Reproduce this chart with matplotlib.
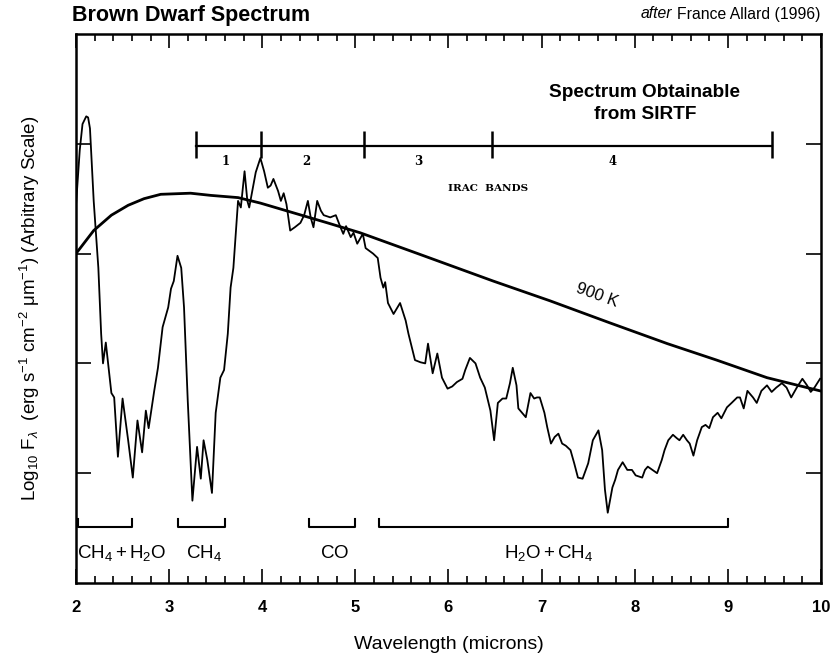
import numpy as np
import matplotlib
matplotlib.use('Agg')
import matplotlib.pyplot as plt
from matplotlib import font_manager

plt.rcParams['font.family'] = ['Liberation Sans', 'DejaVu Sans']
installed = {f.name for f in font_manager.fontManager.ttflist}
narrow = 'Liberation Sans Narrow' if 'Liberation Sans Narrow' in installed else 'Liberation Sans'
plt.rcParams['mathtext.fontset'] = 'custom'
plt.rcParams['mathtext.rm'] = 'Liberation Sans'
plt.rcParams['mathtext.it'] = 'Liberation Sans:italic'
plt.rcParams['mathtext.bf'] = 'Liberation Sans:bold'
plt.rcParams['mathtext.sf'] = narrow

# model spectrum (wavelength in microns, log flux in arbitrary units)
wave = [2.00, 2.04, 2.07, 2.11, 2.13, 2.15, 2.19, 2.24, 2.27, 2.29, 2.32, 2.35, 2.38, 2.41,
        2.45, 2.50, 2.56, 2.61, 2.66, 2.71, 2.75, 2.78, 2.84, 2.88, 2.93, 2.99, 3.02, 3.05,
        3.09, 3.13, 3.16, 3.20, 3.25, 3.30, 3.34, 3.37, 3.41, 3.46, 3.50, 3.55, 3.59, 3.63,
        3.66, 3.69, 3.74, 3.77, 3.81, 3.84, 3.86, 3.90, 3.93, 3.98, 4.02, 4.06, 4.09, 4.12,
        4.17, 4.20, 4.23, 4.26, 4.30, 4.35, 4.41, 4.45, 4.49, 4.52, 4.55, 4.59, 4.63, 4.66,
        4.73, 4.79, 4.84, 4.87, 4.90, 4.95, 4.98, 5.02, 5.08, 5.11, 5.19, 5.24, 5.27, 5.30,
        5.32, 5.35, 5.41, 5.48, 5.54, 5.57, 5.64, 5.70, 5.75, 5.78, 5.83, 5.88, 5.93, 5.99,
        6.04, 6.09, 6.15, 6.18, 6.23, 6.29, 6.34, 6.39, 6.45, 6.49, 6.53, 6.58, 6.62, 6.66,
        6.69, 6.73, 6.75, 6.79, 6.83, 6.88, 6.92, 6.95, 6.98, 7.03, 7.06, 7.10, 7.14, 7.18,
        7.22, 7.26, 7.31, 7.35, 7.39, 7.44, 7.50, 7.55, 7.61, 7.65, 7.68, 7.71, 7.76, 7.79,
        7.82, 7.87, 7.92, 7.97, 8.01, 8.08, 8.11, 8.14, 8.19, 8.24, 8.29, 8.32, 8.36, 8.41,
        8.45, 8.48, 8.52, 8.56, 8.59, 8.63, 8.67, 8.72, 8.76, 8.80, 8.84, 8.89, 8.93, 8.99,
        9.04, 9.10, 9.13, 9.17, 9.21, 9.27, 9.31, 9.36, 9.42, 9.47, 9.52, 9.58, 9.63, 9.68,
        9.74, 9.80, 9.85, 9.89, 9.93, 9.99]
flux = [3.44, 3.94, 4.18, 4.25, 4.24, 4.14, 3.48, 2.87, 2.27, 2.00, 2.19, 1.96, 1.73, 1.69,
        1.15, 1.68, 1.30, 0.96, 1.48, 1.19, 1.57, 1.41, 1.75, 1.96, 2.33, 2.51, 2.68, 2.75,
        2.98, 2.87, 2.51, 1.66, 0.75, 1.24, 0.95, 1.30, 1.12, 0.82, 1.55, 1.87, 1.94, 2.27,
        2.69, 2.87, 3.48, 3.42, 3.75, 3.48, 3.42, 3.60, 3.74, 3.87, 3.75, 3.60, 3.62, 3.68,
        3.57, 3.48, 3.55, 3.45, 3.21, 3.24, 3.28, 3.35, 3.48, 3.33, 3.24, 3.48, 3.39, 3.35,
        3.33, 3.35, 3.24, 3.18, 3.25, 3.15, 3.19, 3.09, 3.18, 3.05, 3.00, 2.96, 2.78, 2.69,
        2.74, 2.55, 2.45, 2.55, 2.39, 2.27, 2.03, 2.01, 2.00, 2.18, 1.91, 2.09, 1.87, 1.77,
        1.79, 1.83, 1.86, 1.94, 2.05, 2.00, 1.87, 1.78, 1.57, 1.30, 1.64, 1.68, 1.68, 1.82,
        1.96, 1.80, 1.59, 1.55, 1.51, 1.73, 1.68, 1.69, 1.69, 1.55, 1.42, 1.27, 1.33, 1.36,
        1.27, 1.25, 1.21, 1.09, 0.96, 0.95, 1.09, 1.30, 1.39, 1.21, 0.85, 0.64, 0.87, 0.94,
        1.03, 1.10, 1.03, 1.03, 0.98, 0.96, 1.03, 1.06, 1.03, 1.00, 1.12, 1.21, 1.30, 1.35,
        1.32, 1.30, 1.35, 1.30, 1.27, 1.16, 1.30, 1.42, 1.44, 1.41, 1.51, 1.55, 1.50, 1.60,
        1.64, 1.69, 1.69, 1.59, 1.75, 1.69, 1.64, 1.75, 1.80, 1.74, 1.78, 1.82, 1.78, 1.69,
        1.78, 1.86, 1.80, 1.74, 1.78, 1.86]

# 900 K blackbody
bb_wave = [2.00, 2.19, 2.38, 2.56, 2.73, 2.91, 3.23, 3.45, 3.74, 3.98, 4.34, 4.70, 5.05,
           5.67, 6.48, 7.09, 7.73, 8.35, 8.88, 9.42, 9.99]
bb_flux = [3.00, 3.21, 3.35, 3.44, 3.50, 3.54, 3.55, 3.53, 3.51, 3.46, 3.37, 3.28, 3.19,
           3.00, 2.75, 2.57, 2.37, 2.18, 2.03, 1.87, 1.75]

# IRAC band edges and labels
irac_edges = [3.29, 3.99, 5.09, 6.47, 9.47]
irac_names = ['1', '2', '3', '4']
irac_name_x = [3.61, 4.47, 5.68, 7.76]

# absorption features
absorb_lo = [2.02, 3.10, 4.50, 5.25]
absorb_hi = [2.60, 3.60, 5.00, 9.00]
absorb_names = [r'$\mathsf{CH_4 + H_2O}$', r'$\mathsf{CH_4}$', r'$\mathsf{CO}$',
                r'$\mathsf{H_2O + CH_4}$']
absorb_name_x = [2.49, 3.37, 4.78, 7.08]

fig = plt.figure(figsize=(8.33, 6.59), dpi=100)
ax = fig.add_axes([76/833, 1 - 583/659, 745/833, 549/659])

ax.plot(wave, flux, color='black', lw=1.3, solid_joinstyle='round')
ax.plot(bb_wave, bb_flux, color='black', lw=2.0)

# IRAC bar
ax.plot([irac_edges[0], irac_edges[-1]], [3.98, 3.98], color='black', lw=1.6)
ax.vlines(irac_edges, 3.87, 4.12, color='black', lw=1.8)
for name, xx in zip(irac_names, irac_name_x):
    ax.text(xx, 3.84, name, ha='center', va='center', fontsize=8.5,
            family='DejaVu Serif', fontweight='bold')
ax.text(6.42, 3.59, 'IRAC  BANDS', ha='center', va='center', fontsize=7.5,
        family='DejaVu Serif', fontweight='bold')
ax.text(8.11, 4.37, 'Spectrum Obtainable\nfrom SIRTF', ha='center', va='center',
        fontsize=13.7, fontweight='bold', linespacing=1.4)
ax.text(7.59, 2.62, '900 K', ha='center', va='center', fontsize=12, rotation=-20)

# absorption brackets
for lo, hi in zip(absorb_lo, absorb_hi):
    ax.plot([lo, lo, hi, hi], [0.58, 0.51, 0.51, 0.58], color='black', lw=1.5)
for name, xx in zip(absorb_names, absorb_name_x):
    ax.text(xx, 0.27, name, ha='center', va='center', fontsize=13.5)

ax.set_xlim(2, 10)
ax.set_ylim(0, 5)
ax.set_xticks(range(2, 11))
ax.set_xticks(np.arange(2, 10.01, 0.2), minor=True)
ax.set_yticks([1, 2, 3, 4])
ax.set_yticklabels([])
ax.tick_params(which='both', direction='in', top=True, right=True, width=1.2)
ax.tick_params(axis='x', which='major', length=10, labelsize=12, pad=12)
ax.tick_params(axis='x', which='minor', length=5)
ax.tick_params(axis='y', which='major', length=11)
for lab in ax.get_xticklabels():
    lab.set_fontweight('bold')
for sp in ax.spines.values():
    sp.set_linewidth(1.8)

ax.set_xlabel('Wavelength (microns)', fontsize=14)
ax.xaxis.set_label_coords(0.5, -0.097)
ax.set_ylabel(r'Log$_{10}$ F$_\lambda$  (erg s$^{-1}$ cm$^{-2}$ μm$^{-1}$) (Arbitrary Scale)',
              fontsize=13.5)
ax.yaxis.set_label_coords(-0.045, 0.5)

fig.text(72/833, 1 - 15/659, 'Brown Dwarf Spectrum', ha='left', va='center',
         fontsize=15.5, fontweight='bold')
credit = fig.text(820/833, 1 - 14/659, 'France Allard (1996)', ha='right', va='center',
                  fontsize=11.3)
renderer = fig.canvas.get_renderer()
x0 = credit.get_window_extent(renderer).x0
fig.text((x0 - 4) / 833, 1 - 14/659, 'after', ha='right', va='center', fontsize=11.3,
         style='italic')

fig.savefig('out.png', dpi=100)
